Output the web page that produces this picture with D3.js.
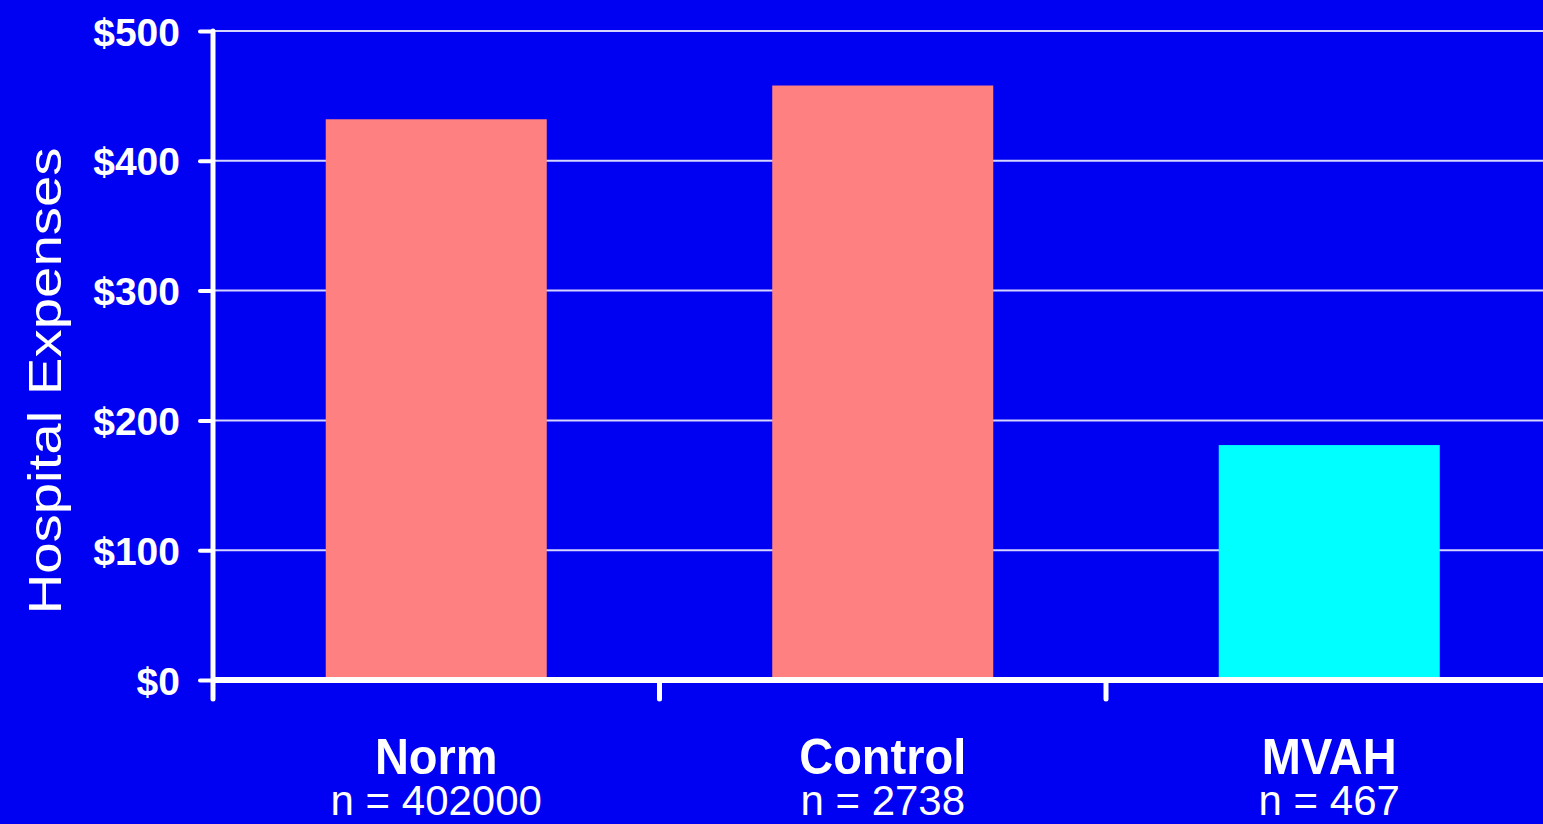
<!DOCTYPE html>
<html>
<head>
<meta charset="utf-8">
<script src="https://cdn.jsdelivr.net/npm/d3@7"></script>
<style>
  html, body { margin: 0; padding: 0; background: #0000f2; overflow: hidden; }
  svg { display: block; }
  text { font-family: "Liberation Sans", Arial, sans-serif; fill: #ffffff; }
</style>
</head>
<body>
<svg id="chart" width="1543" height="824"></svg>
<script>
// Hospital expenses per group
const categories = ["Norm", "Control", "MVAH"];
const sampleSizes = ["n = 402000", "n = 2738", "n = 467"];
const expenses = [432, 458, 181];
const barColors = ["#ff8080", "#ff8080", "#00ffff"];
const yTicks = [0, 100, 200, 300, 400, 500];

const svg = d3.select("#chart");
const W = 1543, H = 824;

const plot = { left: 213, top: 31, bottom: 680, right: 1552.5 };

const x = d3.scaleBand()
  .domain(categories)
  .range([plot.left, plot.right])
  .padding(0);

const y = d3.scaleLinear()
  .domain([0, 500])
  .range([plot.bottom, plot.top]);

const barWidth = x.bandwidth() * 0.495;

svg.append("rect").attr("width", W).attr("height", H).attr("fill", "#0000f2");

// horizontal gridlines
svg.append("g")
  .selectAll("line")
  .data(yTicks.filter(d => d > 0))
  .join("line")
  .attr("x1", plot.left)
  .attr("x2", W)
  .attr("y1", d => y(d))
  .attr("y2", d => y(d))
  .attr("stroke", "#d4d4ff")
  .attr("stroke-width", 2);

// bars
svg.append("g")
  .selectAll("rect")
  .data(categories)
  .join("rect")
  .attr("x", (d) => x(d) + (x.bandwidth() - barWidth) / 2)
  .attr("width", barWidth)
  .attr("y", (d, i) => y(expenses[i]))
  .attr("height", (d, i) => y(0) - y(expenses[i]))
  .attr("fill", (d, i) => barColors[i]);

// y axis
const yAxis = d3.axisLeft(y)
  .tickValues(yTicks)
  .tickSize(13)
  .tickPadding(20)
  .tickFormat(d => "$" + d);

const gy = svg.append("g")
  .attr("transform", `translate(${plot.left},0)`)
  .call(yAxis);
gy.select(".domain").remove();
gy.selectAll(".tick line")
  .attr("stroke", "#ffffff")
  .attr("stroke-width", 4)
  .attr("stroke-linecap", "round");
gy.selectAll(".tick text")
  .attr("fill", "#ffffff")
  .style("font-size", "39px")
  .style("font-weight", "bold")
  .attr("dy", "0.36em");

// vertical axis line
svg.append("line")
  .attr("x1", plot.left).attr("x2", plot.left)
  .attr("y1", y(500)).attr("y2", y(0))
  .attr("stroke", "#ffffff")
  .attr("stroke-width", 5)
  .attr("stroke-linecap", "round");

// x axis: ticks on band boundaries
const bounds = categories.map(d => x(d)).concat([x(categories[categories.length - 1]) + x.bandwidth()]);
svg.append("g")
  .selectAll("line")
  .data(bounds)
  .join("line")
  .attr("x1", d => d).attr("x2", d => d)
  .attr("y1", plot.bottom).attr("y2", plot.bottom + 19)
  .attr("stroke", "#ffffff")
  .attr("stroke-width", 5)
  .attr("stroke-linecap", "round");

svg.append("line")
  .attr("x1", plot.left).attr("x2", W + 10)
  .attr("y1", plot.bottom).attr("y2", plot.bottom)
  .attr("stroke", "#ffffff")
  .attr("stroke-width", 6);

// category labels
const labels = svg.append("g");
categories.forEach((c, i) => {
  const cx = x(c) + x.bandwidth() / 2;
  labels.append("text")
    .attr("transform", `translate(${cx},774) scale(1,1.08)`)
    .attr("text-anchor", "middle")
    .style("font-size", "47px")
    .style("font-weight", "bold")
    .text(c);
  labels.append("text")
    .attr("transform", `translate(${cx},815)`)
    .attr("text-anchor", "middle")
    .style("font-size", "42px")
    .text(sampleSizes[i]);
});

// y axis title
svg.append("text")
  .attr("transform", `translate(61,${(150 + 612) / 2}) rotate(-90) scale(1.2,1)`)
  .attr("text-anchor", "middle")
  .style("font-size", "47px")
  .text("Hospital Expenses");
</script>
</body>
</html>
